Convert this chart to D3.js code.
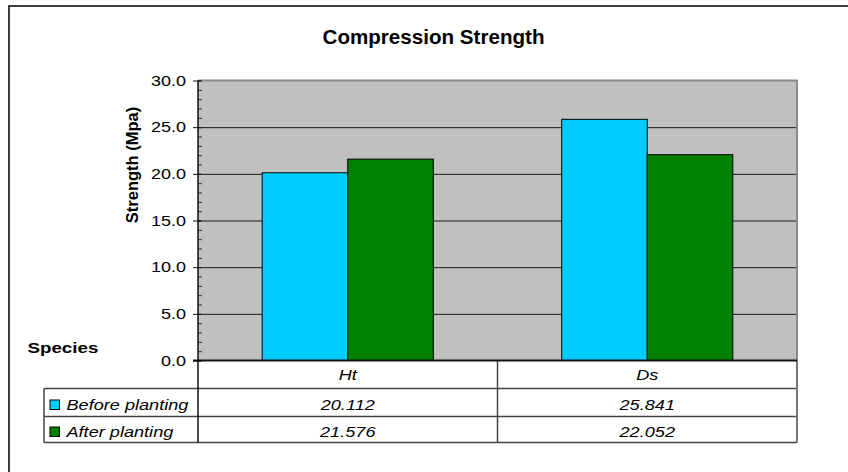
<!DOCTYPE html>
<html>
<head>
<meta charset="utf-8">
<script src="https://cdn.jsdelivr.net/npm/d3@7"></script>
<style>
  html, body { margin: 0; padding: 0; background: #fff; }
  svg { display: block; font-family: "Liberation Sans", Arial, sans-serif; }
</style>
</head>
<body>
<svg id="chart" width="848" height="472"></svg>
<script>
// Compression strength by species, before and after planting
const categories = ["Ht", "Ds"];
const seriesNames = ["Before planting", "After planting"];
const beforePlanting = [20.112, 25.841];
const afterPlanting = [21.576, 22.052];
const seriesColors = ["#00CCFF", "#008000"];
const yMajorTicks = [0, 5, 10, 15, 20, 25, 30];
const titleText = "Compression Strength";
const yTitleText = "Strength (Mpa)";
const tableHeaderText = "Species";

const seriesValues = [beforePlanting, afterPlanting];
const rows = categories.map((c, i) => ({ cat: c, values: seriesValues.map(s => s[i]) }));

const svg = d3.select("#chart");

// plot frame
const plot = { left: 198, right: 797, top: 80.5, bottom: 360.5 };
const tableRows = [360.5, 388.5, 416.5, 442.5];
const tableLeft = 44;

// outer chart border
svg.append("rect")
  .attr("x", 9).attr("y", 6).attr("width", 900).attr("height", 520)
  .attr("fill", "#fff").attr("stroke", "#111").attr("stroke-width", 1.6);

const y = d3.scaleLinear().domain([0, 30]).range([plot.bottom, plot.top]);
const x0 = d3.scaleBand().domain(categories).range([plot.left, plot.right]).paddingInner(0).paddingOuter(0);
const x1 = d3.scaleBand().domain(seriesNames).range([0, x0.bandwidth()]).paddingInner(0).paddingOuter(0.75);

// plot background
svg.append("rect")
  .attr("x", plot.left).attr("y", plot.top)
  .attr("width", plot.right - plot.left).attr("height", plot.bottom - plot.top)
  .attr("fill", "#C0C0C0");

// horizontal gridlines
svg.append("g")
  .attr("transform", `translate(${plot.left},0)`)
  .call(d3.axisLeft(y).tickValues(yMajorTicks.filter(v => v > 0 && v < 30))
    .tickSize(-(plot.right - plot.left)).tickFormat(""))
  .call(g => g.select(".domain").remove())
  .call(g => g.selectAll("line").attr("stroke", "#1a1a1a").attr("stroke-width", 1));

// plot border top and right
svg.append("path")
  .attr("d", `M${plot.left},${plot.top}H${plot.right}V${plot.bottom}`)
  .attr("fill", "none").attr("stroke", "#8a8a8a").attr("stroke-width", 2);

// bars
const groups = svg.append("g").selectAll("g").data(rows).join("g")
  .attr("transform", d => `translate(${x0(d.cat)},0)`);
groups.selectAll("rect")
  .data(d => d.values.map((v, i) => ({ name: seriesNames[i], v, i })))
  .join("rect")
  .attr("x", d => x1(d.name))
  .attr("y", d => y(d.v))
  .attr("width", x1.bandwidth())
  .attr("height", d => y(0) - y(d.v))
  .attr("fill", d => seriesColors[d.i])
  .attr("stroke", "#000").attr("stroke-width", 1);

// table grid
const tableGrid = svg.append("g").attr("fill", "none").attr("stroke", "#444").attr("stroke-width", 1.5);
[tableRows[1], tableRows[2], tableRows[3]].forEach(yy => {
  tableGrid.append("line").attr("x1", tableLeft).attr("x2", plot.right).attr("y1", yy).attr("y2", yy);
});
tableGrid.append("line").attr("x1", tableLeft).attr("x2", tableLeft).attr("y1", tableRows[1]).attr("y2", tableRows[3]);
tableGrid.append("line").attr("x1", x0("Ds")).attr("x2", x0("Ds")).attr("y1", tableRows[0]).attr("y2", tableRows[3]);
svg.append("line").attr("x1", plot.right).attr("x2", plot.right)
  .attr("y1", tableRows[0]).attr("y2", tableRows[3])
  .attr("stroke", "#777").attr("stroke-width", 2);

// y axis: major ticks crossing the axis, minor ticks inside
const TICK_SX = 1.2;
svg.append("g")
  .attr("transform", `translate(${plot.left},0)`)
  .call(d3.axisRight(y).tickValues(d3.range(0, 31, 1)).tickSize(4).tickFormat(""))
  .call(g => g.select(".domain").remove())
  .call(g => g.selectAll("line").attr("stroke", "#333"));
const yAxis = svg.append("g")
  .attr("transform", `translate(${plot.left},0)`)
  .call(d3.axisLeft(y).tickValues(yMajorTicks).tickFormat(d3.format(".1f"))
    .tickSizeInner(5).tickSizeOuter(0).tickPadding(12));
yAxis.select(".domain").remove();
yAxis.selectAll(".tick line").attr("x2", -5).attr("x1", 3).attr("stroke", "#111");
yAxis.selectAll("text")
  .attr("x", -12 / TICK_SX)
  .attr("transform", `scale(${TICK_SX},1)`)
  .attr("font-size", 15).attr("fill", "#000")
  .attr("font-family", "'Liberation Sans', Arial, sans-serif");

// axis lines (left axis continues through the table)
svg.append("line").attr("x1", plot.left).attr("x2", plot.left)
  .attr("y1", plot.top).attr("y2", tableRows[3])
  .attr("stroke", "#111").attr("stroke-width", 1.5);
svg.append("line").attr("x1", plot.left - 5).attr("x2", plot.right)
  .attr("y1", plot.bottom).attr("y2", plot.bottom)
  .attr("stroke", "#111").attr("stroke-width", 1.8);

// stretched text helper
function label(x, yy, text, opts) {
  const sx = opts.sx || 1;
  return svg.append("text")
    .attr("transform", `translate(${x},${yy}) scale(${sx},1)`)
    .attr("text-anchor", opts.anchor || "start")
    .attr("font-size", opts.size)
    .attr("font-weight", opts.weight || "normal")
    .attr("font-style", opts.style || "normal")
    .attr("fill", "#000")
    .text(text);
}

// title
label(433.5, 44, titleText, { size: 20, weight: "bold", anchor: "middle", sx: 1.03 });

// y axis title
svg.append("text")
  .attr("transform", `translate(138,165) rotate(-90)`)
  .attr("text-anchor", "middle")
  .attr("font-size", 16.5).attr("font-weight", "bold")
  .text(yTitleText);

// table header
label(27.5, 352.5, tableHeaderText, { size: 15, weight: "bold", sx: 1.25 });

// category labels
const TABLE_SX = 1.21;
categories.forEach(c => {
  label(x0(c) + x0.bandwidth() / 2, 380, c, { size: 15, style: "italic", anchor: "middle", sx: TABLE_SX });
});

// value rows with legend keys
const rowBaselines = [410, 437];
seriesNames.forEach((name, i) => {
  svg.append("rect")
    .attr("x", 50).attr("y", rowBaselines[i] - 10)
    .attr("width", 9.5).attr("height", 9.5)
    .attr("fill", seriesColors[i]).attr("stroke", "#000").attr("stroke-width", 1);
  label(66.5, rowBaselines[i], name, { size: 15, style: "italic", sx: TABLE_SX });
  categories.forEach((c, j) => {
    label(x0(c) + x0.bandwidth() / 2, rowBaselines[i], d3.format(".3f")(seriesValues[i][j]),
      { size: 15, style: "italic", anchor: "middle", sx: TABLE_SX });
  });
});
</script>
</body>
</html>
